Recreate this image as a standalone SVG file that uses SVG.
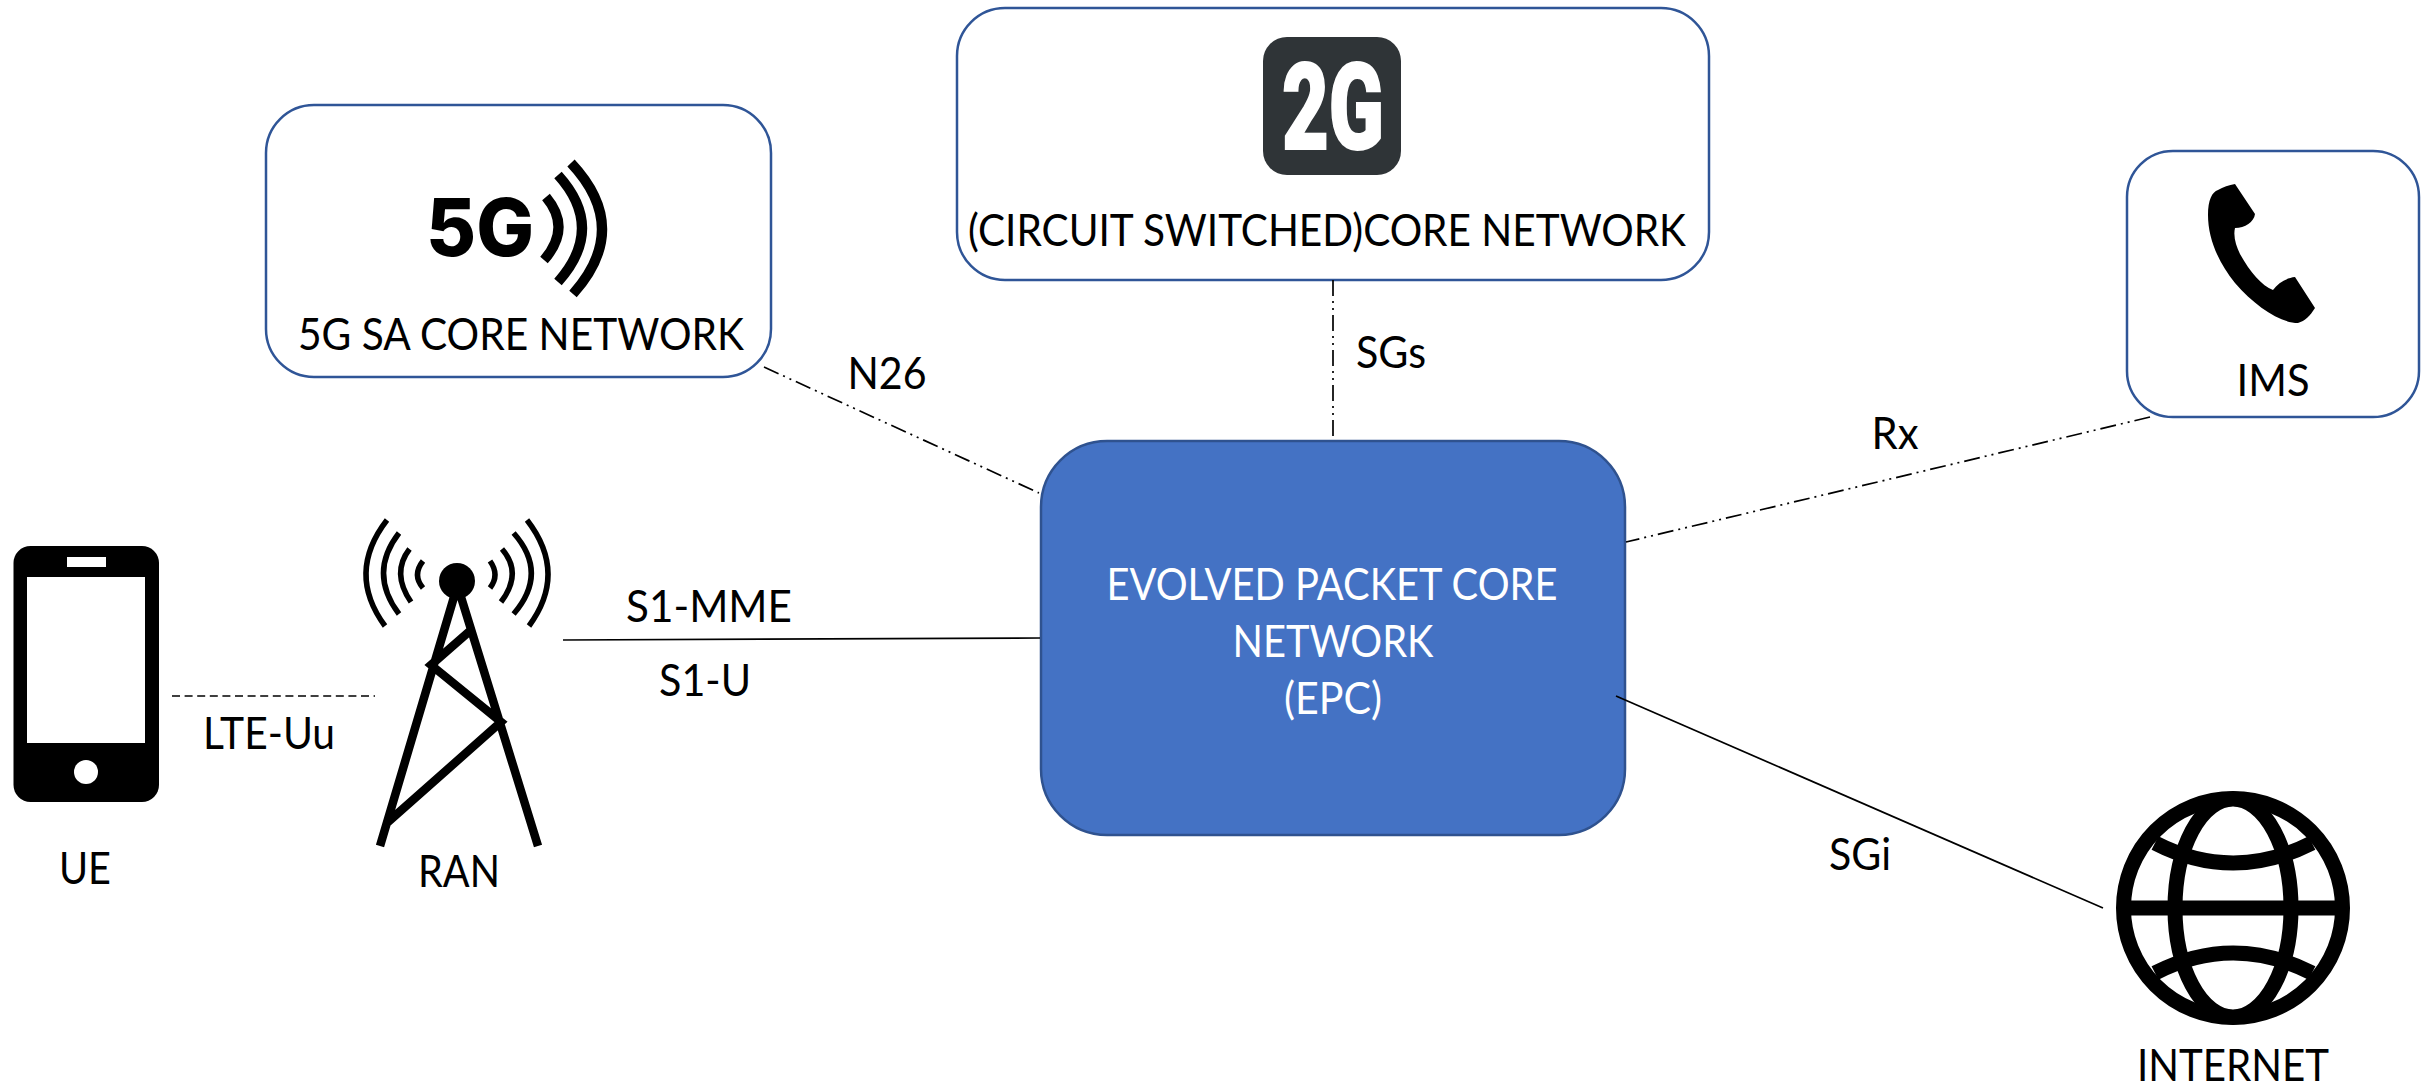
<svg xmlns="http://www.w3.org/2000/svg" width="2431" height="1085" viewBox="0 0 2431 1085">
<style>
text{font-family:"Lato","Carlito","Liberation Sans",sans-serif;font-size:44px;fill:#000;text-anchor:middle}
.box{fill:#fff;stroke:#2f5597;stroke-width:2.5}
.conn{fill:none;stroke:#000;stroke-width:1.7}
.dd{stroke-dasharray:16 5 2 5 2 5}
.k{fill:#000}
.ks{fill:none;stroke:#000;stroke-linecap:butt}
.w{fill:#fff}
</style>
<rect width="2431" height="1085" fill="#fff"/>
<g id="ue">
<rect class="k" x="13.500" y="546" width="145.500" height="256" rx="17"/>
<rect x="27" y="577" width="118" height="166" fill="#fff"/>
<rect x="67" y="557" width="39" height="10" fill="#fff"/>
<circle cx="86" cy="772" r="12" fill="#fff"/>
<text x="85" y="884" textLength="52" lengthAdjust="spacingAndGlyphs">UE</text>
</g>
<g id="ran">
<circle class="k" cx="457" cy="581" r="18"/>
<g class="ks" stroke-width="8.500">
<path d="M454 597L380 846M461 597L538 846M471 630L431 665L501 722L388 822"/>
</g>
<g class="ks" stroke-width="5.500">
<path d="M387 520Q346 573 385 626M399 533Q368 573 399 614M409.500 549Q391 573 411 602M423 561Q412 575 423 588"/>
<path d="M527 520Q568 573 529 626M513.600 533Q549 573 513.600 614M502 549Q523 573 501 602M490 561Q500 575 490 588"/>
</g>
<text x="459" y="887" textLength="82" lengthAdjust="spacingAndGlyphs">RAN</text>
</g>
<g id="sa-core">
<rect class="box" x="266" y="105" width="505" height="272" rx="48"/>
<text x="480" y="256" style="font-family:Inter,'Liberation Sans',sans-serif;font-weight:800;font-size:80px" textLength="108" lengthAdjust="spacingAndGlyphs">5G</text>
<g class="ks" stroke-width="10">
<path d="M546 197Q572 228 544 260M558 175Q606 228 558 282M571 163Q632 228 573 294"/>
</g>
<text x="521" y="350" textLength="446" lengthAdjust="spacingAndGlyphs">5G SA CORE NETWORK</text>
</g>
<g id="cs-core">
<rect class="box" x="957" y="8" width="752" height="272" rx="48"/>
<rect x="1263" y="37" width="138" height="138" rx="24" fill="#2f3437"/>
<text x="1333" y="149" style="font-family:Roboto,'Liberation Sans',sans-serif;font-weight:900;font-size:120px;fill:#fff;stroke:#fff;stroke-width:2" textLength="102" lengthAdjust="spacingAndGlyphs">2G</text>
<text x="1327" y="246" textLength="718" lengthAdjust="spacingAndGlyphs">(CIRCUIT SWITCHED)CORE NETWORK</text>
</g>
<g id="ims">
<rect class="box" x="2127" y="151" width="292" height="266" rx="46"/>
<path class="k" d="M2235 184L2255 214C2254 222 2245 228 2235 228C2233 236 2236 246 2240 254C2250 272 2262 286 2273 290C2278 283 2286 278 2295 277L2315 308C2310 316 2305 321 2298 323C2280 323 2255 306 2235 283C2218 262 2208 238 2208 215C2208 200 2212 192 2218 190C2223 187 2229 185 2235 184Z"/>
<text x="2273" y="396" textLength="73" lengthAdjust="spacingAndGlyphs">IMS</text>
</g>
<g id="epc">
<rect x="1041" y="441" width="584" height="394" rx="66" fill="#4472c4" stroke="#2f528f" stroke-width="2.500"/>
<text class="w" x="1332" y="600" textLength="451" lengthAdjust="spacingAndGlyphs">EVOLVED PACKET CORE</text>
<text class="w" x="1333" y="657" textLength="201" lengthAdjust="spacingAndGlyphs">NETWORK</text>
<text class="w" x="1333" y="714" textLength="98" lengthAdjust="spacingAndGlyphs">(EPC)</text>
</g>
<g id="internet">
<g class="ks" stroke-width="15">
<circle cx="2233" cy="908" r="109.500"/>
<ellipse cx="2233" cy="908" rx="58" ry="109"/>
<path d="M2124 908H2342"/>
<path d="M2155 843Q2233 883 2312 843M2155 973Q2233 933 2312 973"/>
</g>
<text x="2233" y="1081" textLength="192" lengthAdjust="spacingAndGlyphs">INTERNET</text>
</g>
<g id="connectors">
<line class="conn" x1="172" y1="696" x2="375" y2="696" stroke-dasharray="8 4.600"/>
<line class="conn" x1="563" y1="640" x2="1040" y2="638"/>
<line class="conn dd" x1="764" y1="367" x2="1039" y2="493"/>
<line class="conn dd" x1="1333" y1="280" x2="1333" y2="441"/>
<line class="conn dd" x1="2150" y1="417" x2="1626" y2="542"/>
<line class="conn" x1="1616" y1="696" x2="2103" y2="908"/>
</g>
<g id="labels">
<text x="269" y="749" textLength="132" lengthAdjust="spacingAndGlyphs">LTE-Uu</text>
<text x="709" y="622" textLength="166" lengthAdjust="spacingAndGlyphs">S1-MME</text>
<text x="705" y="696" textLength="92" lengthAdjust="spacingAndGlyphs">S1-U</text>
<text x="887" y="389" textLength="79" lengthAdjust="spacingAndGlyphs">N26</text>
<text x="1391" y="368" textLength="70" lengthAdjust="spacingAndGlyphs">SGs</text>
<text x="1895" y="449" textLength="47" lengthAdjust="spacingAndGlyphs">Rx</text>
<text x="1860" y="870" textLength="62" lengthAdjust="spacingAndGlyphs">SGi</text>
</g>
</svg>
